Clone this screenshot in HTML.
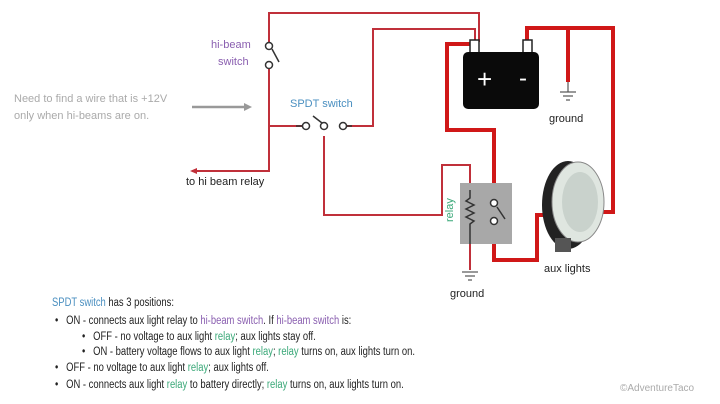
<!DOCTYPE html>
<html><head><meta charset="utf-8"><style>
body{margin:0;background:#fff;}
.w{position:relative;width:720px;height:404px;overflow:hidden;font-family:"Liberation Sans",sans-serif;}
.t{position:absolute;font-size:11px;color:#222;white-space:nowrap;}
.n{transform:scaleX(0.82);transform-origin:0 0;font-size:11.5px;}
.b{color:#4a8fc0}.p{color:#8a5fb0}.g{color:#3aa878}
</style></head><body><div class="w">
<svg width="720" height="404" style="position:absolute;left:0;top:0">
<g fill="none" stroke="#c0303a" stroke-width="2">
<polyline points="269,42 269,13 479,13 479,42"/>
<polyline points="347,126 373,126 373,29 475,29 475,42"/>
<polyline points="269,68 269,171 192,171"/>
<polyline points="269,126 302,126"/>
<polyline points="324,136 324,215 442,215 442,165 470,165 470,190"/>
</g>
<polygon points="190,171 197,168 197,174" fill="#c0303a"/>
<g fill="none" stroke="#d01818" stroke-width="4">
<polyline points="474,44 447,44 447,130 494,130 494,196"/>
<polyline points="527,44 527,28 613,28 613,212 600,212"/>
<polyline points="568,28 568,82"/>
<polyline points="494,228 494,260 537,260 537,215 550,215"/>
</g>
<g stroke="#333" stroke-width="1.5" fill="#fff">
<circle cx="269" cy="46" r="3.5"/><circle cx="269" cy="65" r="3.5"/>
<line x1="272" y1="49" x2="279" y2="62"/>
<circle cx="306" cy="126" r="3.5"/><circle cx="324" cy="126" r="3.5"/><circle cx="343" cy="126" r="3.5"/>
<line x1="313" y1="116" x2="322" y2="123"/>
<line x1="296" y1="126" x2="302" y2="126"/><line x1="347" y1="126" x2="352" y2="126"/>
</g>
<rect x="460" y="183" width="52" height="61" fill="#a8a8a8"/>
<polyline points="470,190 470,198 466,201 474,205 466,209 474,213 466,217 474,221 470,224 470,244" fill="none" stroke="#333" stroke-width="1.5"/>
<line x1="470" y1="244" x2="470" y2="270" stroke="#c0303a" stroke-width="2"/>
<g stroke="#333" stroke-width="1.5" fill="#fff">
<circle cx="494" cy="203" r="3.5"/><circle cx="494" cy="221" r="3.5"/>
<line x1="497" y1="207" x2="505" y2="219"/>
</g>
<g stroke="#555" stroke-width="1.2">
<line x1="462" y1="272" x2="478" y2="272"/><line x1="465" y1="276" x2="475" y2="276"/><line x1="468" y1="280" x2="472" y2="280"/>
<line x1="560" y1="92" x2="576" y2="92"/><line x1="563" y1="96" x2="573" y2="96"/><line x1="566" y1="100" x2="570" y2="100"/>
<line x1="568" y1="82" x2="568" y2="92"/>
</g>
<rect x="470" y="40" width="9" height="13" fill="#fff" stroke="#222" stroke-width="1.5"/>
<rect x="523" y="40" width="9" height="13" fill="#fff" stroke="#222" stroke-width="1.5"/>
<rect x="463" y="52" width="76" height="57" rx="5" fill="#0a0a0a"/>
<text x="477" y="88" fill="#fff" font-size="26" font-family="Liberation Sans">+</text>
<text x="519" y="86" fill="#fff" font-size="24" font-family="Liberation Sans">-</text>
<ellipse cx="568" cy="205" rx="26" ry="44" fill="#222"/>
<ellipse cx="578" cy="202" rx="26" ry="40" fill="#dfe6e0" stroke="#888"/>
<ellipse cx="580" cy="202" rx="18" ry="30" fill="#c9d2cc"/>
<rect x="555" y="238" width="16" height="14" fill="#555"/>
<line x1="192" y1="107" x2="246" y2="107" stroke="#999" stroke-width="2.5"/>
<polygon points="252,107 244,103 244,111" fill="#999"/>
</svg>
<div class="t p" style="left:211px;top:39px">hi-beam</div>
<div class="t p" style="left:218px;top:56px">switch</div>
<div class="t b" style="left:290px;top:98px">SPDT switch</div>
<div class="t" style="left:14px;top:93px;color:#aaa">Need to find a wire that is +12V</div>
<div class="t" style="left:14px;top:110px;color:#aaa">only when hi-beams are on.</div>
<div class="t" style="left:186px;top:176px">to hi beam relay</div>
<div class="t" style="left:549px;top:113px">ground</div>
<div class="t g" style="left:444px;top:222px;transform:rotate(-90deg);transform-origin:0 0;">relay</div>
<div class="t" style="left:450px;top:288px">ground</div>
<div class="t" style="left:544px;top:263px">aux lights</div>
<div class="t n" style="left:52px;top:297px"><span class="b">SPDT switch</span> has 3 positions:</div>
<div class="t n" style="left:55px;top:315px">•&nbsp;&nbsp; ON - connects aux light relay to <span class="p">hi-beam switch</span>. If <span class="p">hi-beam switch</span> is:</div>
<div class="t n" style="left:82px;top:331px">•&nbsp;&nbsp; OFF - no voltage to aux light <span class="g">relay</span>; aux lights stay off.</div>
<div class="t n" style="left:82px;top:346px">•&nbsp;&nbsp; ON - battery voltage flows to aux light <span class="g">relay</span>; <span class="g">relay</span> turns on, aux lights turn on.</div>
<div class="t n" style="left:55px;top:362px">•&nbsp;&nbsp; OFF - no voltage to aux light <span class="g">relay</span>; aux lights off.</div>
<div class="t n" style="left:55px;top:379px">•&nbsp;&nbsp; ON - connects aux light <span class="g">relay</span> to battery directly; <span class="g">relay</span> turns on, aux lights turn on.</div>
<div class="t" style="left:620px;top:383px;color:#aaa;font-size:10px">©AdventureTaco</div>
</div></body></html>
